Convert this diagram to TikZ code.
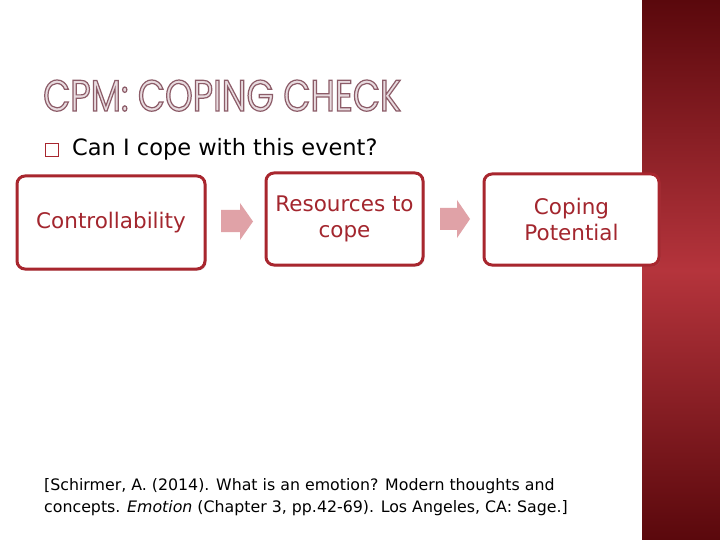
\documentclass[tikz,border=0pt]{standalone}
\usepackage{fontspec}
\setmainfont{DejaVu Sans}
\newfontfamily\titlefont[FakeStretch=0.8]{Poppins}
\usetikzlibrary{shadows}
\definecolor{boxred}{HTML}{A8262E}
\definecolor{txtred}{HTML}{A3262E}
\definecolor{arrowpink}{HTML}{E0A2A7}
\definecolor{paneltop}{HTML}{5A080C}
\definecolor{panelmid}{HTML}{B5343C}
\definecolor{titlefill}{HTML}{E8DBDF}
\newcommand{\outlinetext}[1]{\special{pdf:literal direct 2 Tr 1.2 w 0.549 0.361 0.408 RG}#1\special{pdf:literal direct 0 Tr}}
\tikzset{
  stepbox/.style={draw=boxred, line width=3pt, rounded corners=8pt, fill=white,
    drop shadow={opacity=0.25, shadow xshift=1.5pt, shadow yshift=-1.5pt},
    text=txtred, font=\fontsize{21.5}{26}\selectfont, align=center, inner sep=0pt},
  blockarrow/.style={fill=arrowpink, draw=none}
}
\begin{document}
\begin{tikzpicture}[x=1pt,y=-1pt]
\useasboundingbox (0,0) rectangle (720,540);
\fill[white] (0,0) rectangle (720,540);
% right panel
\shade[top color=paneltop, bottom color=panelmid] (642,0) rectangle (720,270.5);
\shade[top color=panelmid, bottom color=paneltop] (642,270) rectangle (720,540);
% title
\node[anchor=base west, inner sep=0pt] (title) at (43,111)
  {\titlefont\fontsize{44}{44}\selectfont\color{titlefill}\outlinetext{CPM: COPING CHECK}};
% bullet
\node[draw=boxred, line width=0.7pt, minimum width=13pt, minimum height=13pt, inner sep=0pt] (bul) at (52,149.5) {};
\node[anchor=base west, inner sep=0pt, font=\fontsize{22.5}{24}\selectfont] (q) at (72,156) {Can I cope with this event?};
% boxes
\node[stepbox, minimum width=188pt, minimum height=93pt] (b1) at (111,222.5) {Controllability};
\node[stepbox, minimum width=157pt, minimum height=92pt] (b2) at (344.5,219) {Resources to\\cope};
\node[stepbox, minimum width=175pt, minimum height=91pt] (b3) at (571.5,219.5) {Coping\\Potential};
% arrows
\fill[blockarrow] (221,210) -- (240,210) -- (240,203) -- (253,221.5) -- (240,240) -- (240,232) -- (221,232) -- cycle;
\fill[blockarrow] (440,208) -- (457,208) -- (457,200) -- (470,219) -- (457,238) -- (457,230) -- (440,230) -- cycle;
% citation
\node[anchor=north west, inner sep=0pt, align=left, font=\fontsize{15.8}{22}\selectfont] (cit) at (44,478)
  {[Schirmer, A. (2014). What is an emotion? Modern thoughts and\\concepts. \textit{Emotion} (Chapter 3, pp.42-69). Los Angeles, CA: Sage.]};
\end{tikzpicture}
\end{document}
